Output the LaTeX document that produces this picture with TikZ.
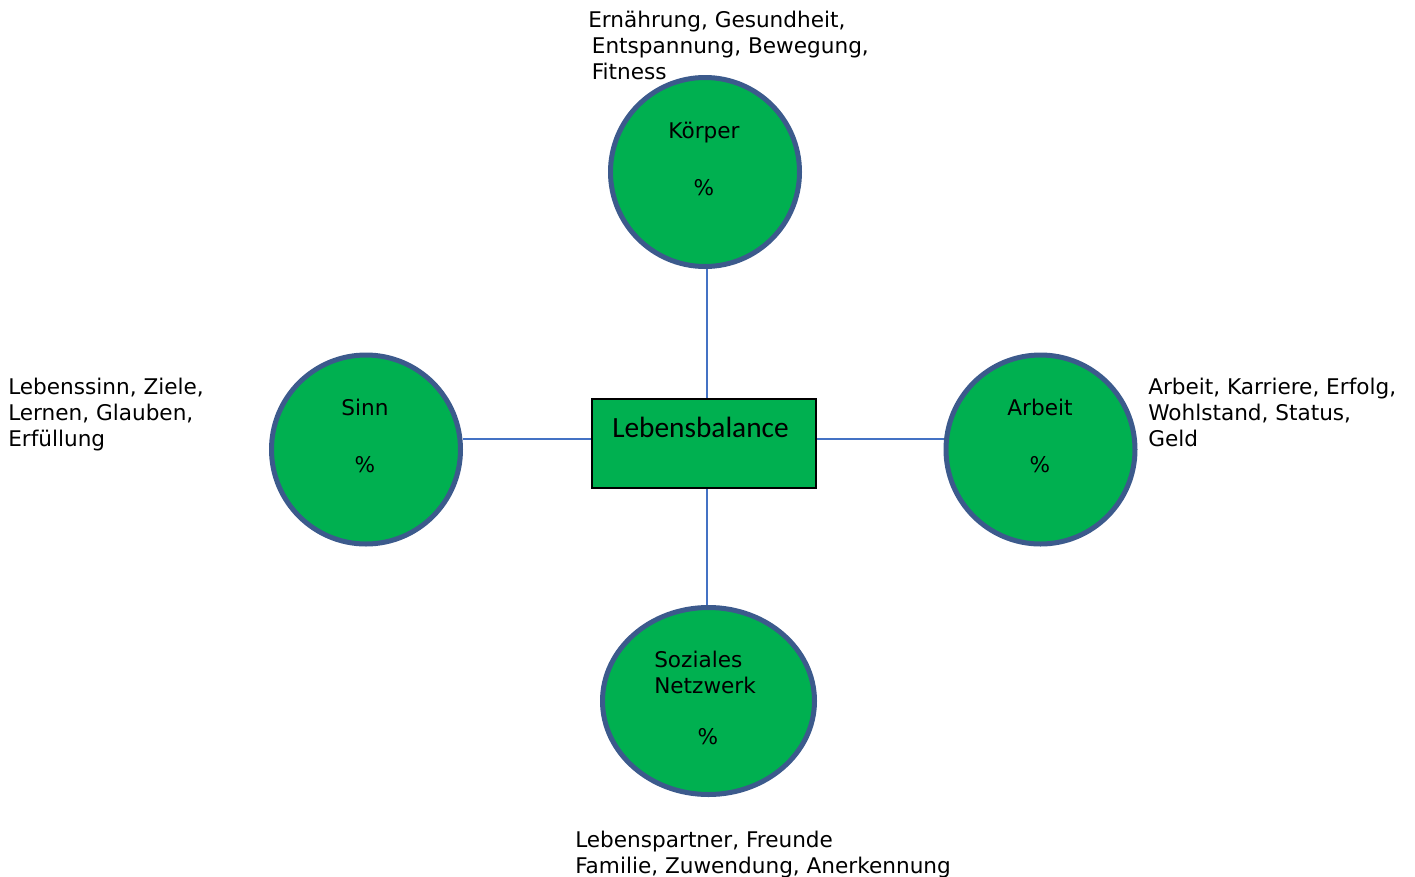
\documentclass[tikz,border=0pt]{standalone}
\usepackage{fontspec}
\setmainfont{DejaVu Sans}
\newfontfamily\hubfont{Carlito}
\usetikzlibrary{shapes.geometric}
\definecolor{areagreen}{RGB}{0,176,80}
\definecolor{ringblue}{RGB}{60,90,140}
\definecolor{linkblue}{RGB}{68,114,196}

\begin{document}
\begin{tikzpicture}[x=0.75pt,y=-0.75pt,
  every node/.style={font=\fontsize{16.2}{19.5}\selectfont, inner sep=0pt},
  area/.style={circle, draw=ringblue, line width=3.75pt, fill=areagreen,
    minimum size=141.75pt},
  hub/.style={rectangle, draw=black, line width=1.5pt, fill=areagreen,
    minimum width=168pt, minimum height=66.75pt},
  topic/.style={align=left, anchor=base west},
  txt/.style={anchor=base},
  conn/.style={draw=linkblue, line width=1.1pt},
]
\useasboundingbox (0,0) rectangle (1415,876);

% the four areas and the hub
\node[area] at (705,172)    (koerper) {};
\node[area] at (366,449.5)  (sinn)    {};
\node[area] at (1040.5,449.5) (arbeit) {};
\node[area, ellipse, minimum width=159pt, minimum height=140.25pt]
      at (708.5,701) (sozial) {};
\node[hub] at (704,443.5)   (balance) {};

% texts inside (base anchor = last line)
\node[txt] at (704,138)  (koerpername) {Körper};
\node[txt] at (704,195)  (koerperpct)  {\%};
\node[txt] at (365,415)  (sinnname)    {Sinn};
\node[txt] at (365,472)  (sinnpct)     {\%};
\node[txt] at (1040,415) (arbeitname)  {Arbeit};
\node[txt] at (1040,472) (arbeitpct)   {\%};
\node[topic] at (654,693) (sozialname) {Soziales\\Netzwerk};
\node[txt] at (708,744)  (sozialpct)   {\%};
\node[anchor=base west, font=\hubfont\fontsize{22}{26}\selectfont]
      at (612,437) (balancename) {Lebensbalance};

% topics
\node[topic] at (588,79)   (koerpertopics) {Ernährung, Gesundheit,\\\,Entspannung, Bewegung,\\\,Fitness};
\node[topic] at (8,446)    (sinntopics)    {Lebenssinn, Ziele,\\Lernen, Glauben,\\Erfüllung};
\node[topic] at (1148,446) (arbeittopics)  {Arbeit, Karriere, Erfolg,\\Wohlstand, Status,\\Geld};
\node[topic] at (575,873)  (sozialtopics)  {Lebenspartner, Freunde\\Familie, Zuwendung, Anerkennung};

% connectors
\draw[conn] ([xshift=1.5pt]koerper.south) -- ([xshift=1.5pt]koerper.south |- balance.north);
\draw[conn] ([xshift=2.2pt]balance.south) -- ([xshift=2.2pt]balance.south |- sozial.north);
\draw[conn] ([yshift=3.4pt]balance.west) -- ([yshift=3.4pt]balance.west -| sinn.east);
\draw[conn] ([yshift=3.4pt]balance.east) -- ([yshift=3.4pt]balance.east -| arbeit.west);
\end{tikzpicture}
\end{document}
